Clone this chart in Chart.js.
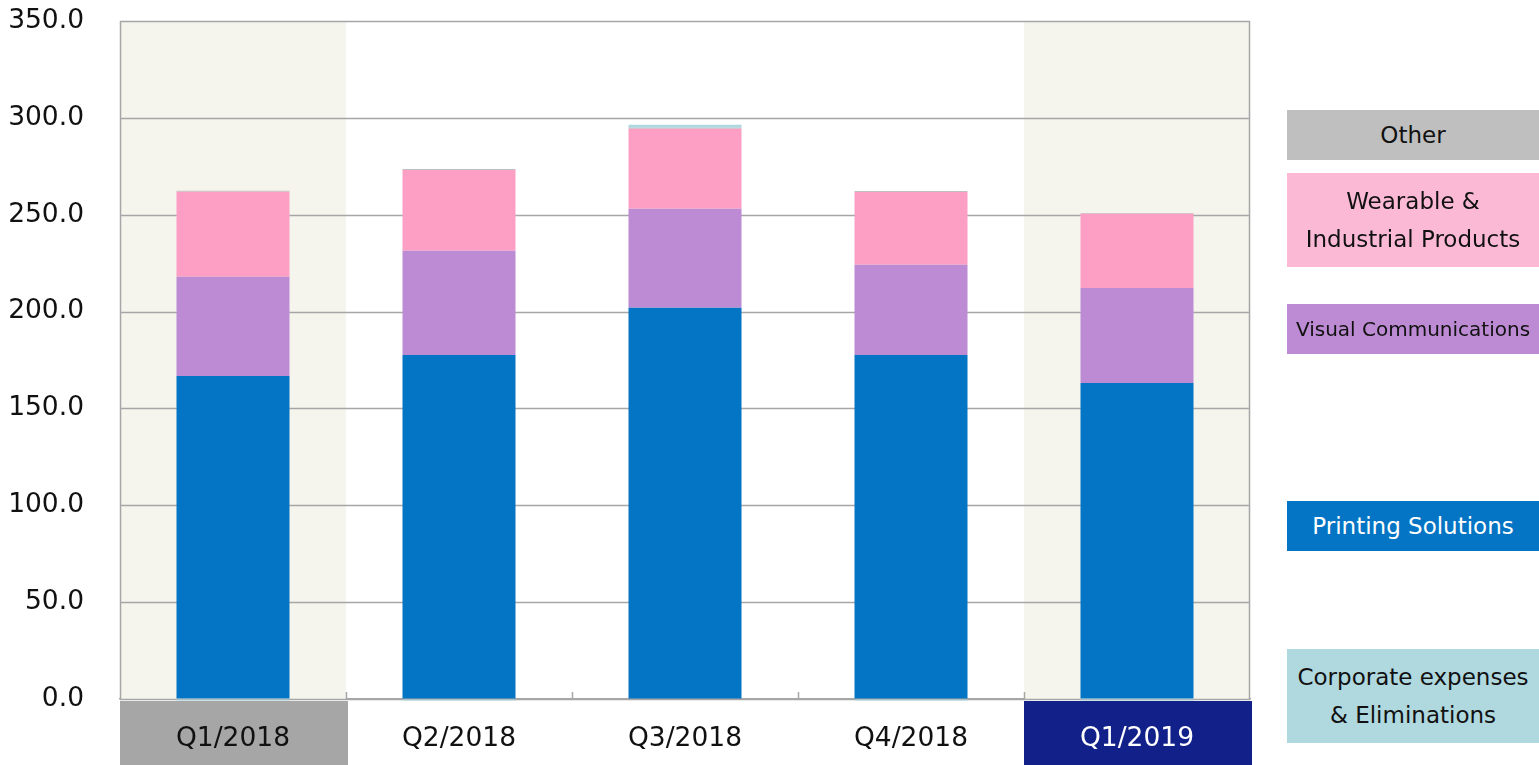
<!DOCTYPE html>
<html>
<head>
<meta charset="utf-8">
<script src="https://cdn.jsdelivr.net/npm/chart.js@4/dist/chart.umd.min.js"></script>
<style>
  html, body { margin: 0; padding: 0; background: #fff; }
  #wrap { position: relative; width: 1539px; height: 765px; overflow: hidden; }
  #chart { position: absolute; left: 0; top: 0; }
  .legend-box {
    position: absolute; left: 1287px; width: 252px;
    display: flex; align-items: center; justify-content: center;
    text-align: center; font-family: 'DejaVu Sans', Verdana, sans-serif;
    font-size: 23px; line-height: 38px; color: #111;
  }
</style>
</head>
<body>
<div id="wrap">
  <canvas id="chart" width="1539" height="765"></canvas>
  <div class="legend-box" style="top:110px;height:50px;background:#BFBFBF;">Other</div>
  <div class="legend-box" style="top:173px;height:94px;background:#FBB9D6;">Wearable &amp;<br>Industrial Products</div>
  <div class="legend-box" style="top:304px;height:50px;background:#BC8BD3;font-size:20px;">Visual Communications</div>
  <div class="legend-box" style="top:501px;height:50px;background:#0474C4;color:#fff;">Printing Solutions</div>
  <div class="legend-box" style="top:649px;height:94px;background:#B0D8DF;">Corporate expenses<br>&amp; Eliminations</div>
</div>
<script>
// 분기 (카테고리)
const quarters = ['Q1/2018', 'Q2/2018', 'Q3/2018', 'Q4/2018', 'Q1/2019'];

// 세그먼트별 값
const printingSolutions = [166.7, 177.6, 201.9, 177.6, 163.1];
const visualCommunications = [51.2, 53.7, 51.1, 46.5, 49.1];
const wearableIndustrial = [43.9, 41.8, 41.3, 37.6, 38.2];
const otherSegment = [0.5, 0.5, 0.6, 0.5, 0.5];
const corporateElim = [-0.8, -0.8, 1.5, -0.8, -0.8];

// y축 눈금
const yTicks = [0, 50, 100, 150, 200, 250, 300, 350];

// 강조할 분기 (배경 / 라벨 박스)
const bandIndexes = [0, 4];
const labelBoxColors = { 0: '#A6A6A6', 4: '#12208A' };

const FONT = "'DejaVu Sans', Verdana, sans-serif";
const GRID = '#A6A6A6';

// 배경 밴드, 라벨 박스, 테두리
const decoPlugin = {
  id: 'deco',
  beforeDatasetsDraw(chart) {
    const { ctx, chartArea, scales } = chart;
    const x = scales.x;
    const half = (x.getPixelForValue(1) - x.getPixelForValue(0)) / 2;
    ctx.save();
    bandIndexes.forEach(i => {
      const c = x.getPixelForValue(i);
      ctx.fillStyle = '#F5F5EE';
      ctx.fillRect(c - half, chartArea.top, half * 2, chartArea.bottom - chartArea.top);
    });
    // 그리드 다시 그리기 (밴드 위에)
    ctx.strokeStyle = GRID;
    ctx.lineWidth = 1.5;
    yTicks.forEach(v => {
      const y = Math.round(scales.y.getPixelForValue(v)) + 0.5;
      ctx.beginPath();
      ctx.moveTo(chartArea.left, y);
      ctx.lineTo(chartArea.right, y);
      ctx.stroke();
    });
    ctx.beginPath();
    ctx.moveTo(chartArea.left + 0.5, chartArea.top);
    ctx.lineTo(chartArea.left + 0.5, chartArea.bottom);
    ctx.moveTo(chartArea.right - 0.5, chartArea.top);
    ctx.lineTo(chartArea.right - 0.5, chartArea.bottom);
    ctx.stroke();
    // 카테고리 경계 눈금 (안쪽)
    for (let i = 1; i < quarters.length; i++) {
      const bx = Math.round(x.getPixelForValue(i) - half) + 0.5;
      ctx.beginPath();
      ctx.moveTo(bx, chartArea.bottom - 7);
      ctx.lineTo(bx, chartArea.bottom);
      ctx.stroke();
    }
    ctx.restore();
  },
  beforeDraw(chart) {
    const { ctx, chartArea, scales } = chart;
    const x = scales.x;
    const half = (x.getPixelForValue(1) - x.getPixelForValue(0)) / 2;
    ctx.save();
    Object.keys(labelBoxColors).forEach(k => {
      const c = x.getPixelForValue(Number(k));
      ctx.fillStyle = labelBoxColors[k];
      ctx.fillRect(c - half, chartArea.bottom + 2, half * 2 + 2, chart.height - chartArea.bottom);
    });
    ctx.restore();
  }
};

const ctx = document.getElementById('chart').getContext('2d');
new Chart(ctx, {
  type: 'bar',
  data: {
    labels: quarters,
    datasets: [
      { label: 'Printing Solutions', data: printingSolutions, backgroundColor: '#0474C4' },
      { label: 'Visual Communications', data: visualCommunications, backgroundColor: '#BC8BD3' },
      { label: 'Wearable & Industrial Products', data: wearableIndustrial, backgroundColor: '#FD9EC4' },
      { label: 'Other', data: otherSegment, backgroundColor: '#BFBFBF' },
      { label: 'Corporate expenses & Eliminations', data: corporateElim, backgroundColor: '#ADD8E0', clip: false }
    ]
  },
  options: {
    responsive: false,
    animation: false,
    devicePixelRatio: 1,
    layout: { padding: { left: 0, right: 289, top: 0, bottom: 0 } },
    datasets: { bar: { categoryPercentage: 1, barPercentage: 0.5 } },
    plugins: { legend: { display: false }, tooltip: { enabled: false } },
    scales: {
      x: {
        stacked: true,
        grid: { display: false },
        border: { display: true, color: GRID, width: 1.5 },
        ticks: {
          padding: 16,
          font: { family: FONT, size: 26.5 },
          color: c => c.index === 4 ? '#FFFFFF' : '#111111'
        },
        afterFit: s => { s.height = 66; }
      },
      y: {
        stacked: true,
        min: 0,
        max: 350,
        // 눈금선은 투명, 라벨 간격용으로만 사용
        grid: { display: true, drawOnChartArea: false, drawTicks: true, tickLength: 31, tickColor: 'rgba(0,0,0,0)' },
        border: { display: false },
        ticks: {
          stepSize: 50,
          padding: 5,
          font: { family: FONT, size: 26.5 },
          color: '#111111',
          callback: v => v.toFixed(1)
        },
        afterFit: s => { s.width = 120; }
      }
    }
  },
  plugins: [decoPlugin]
});
</script>
</body>
</html>
